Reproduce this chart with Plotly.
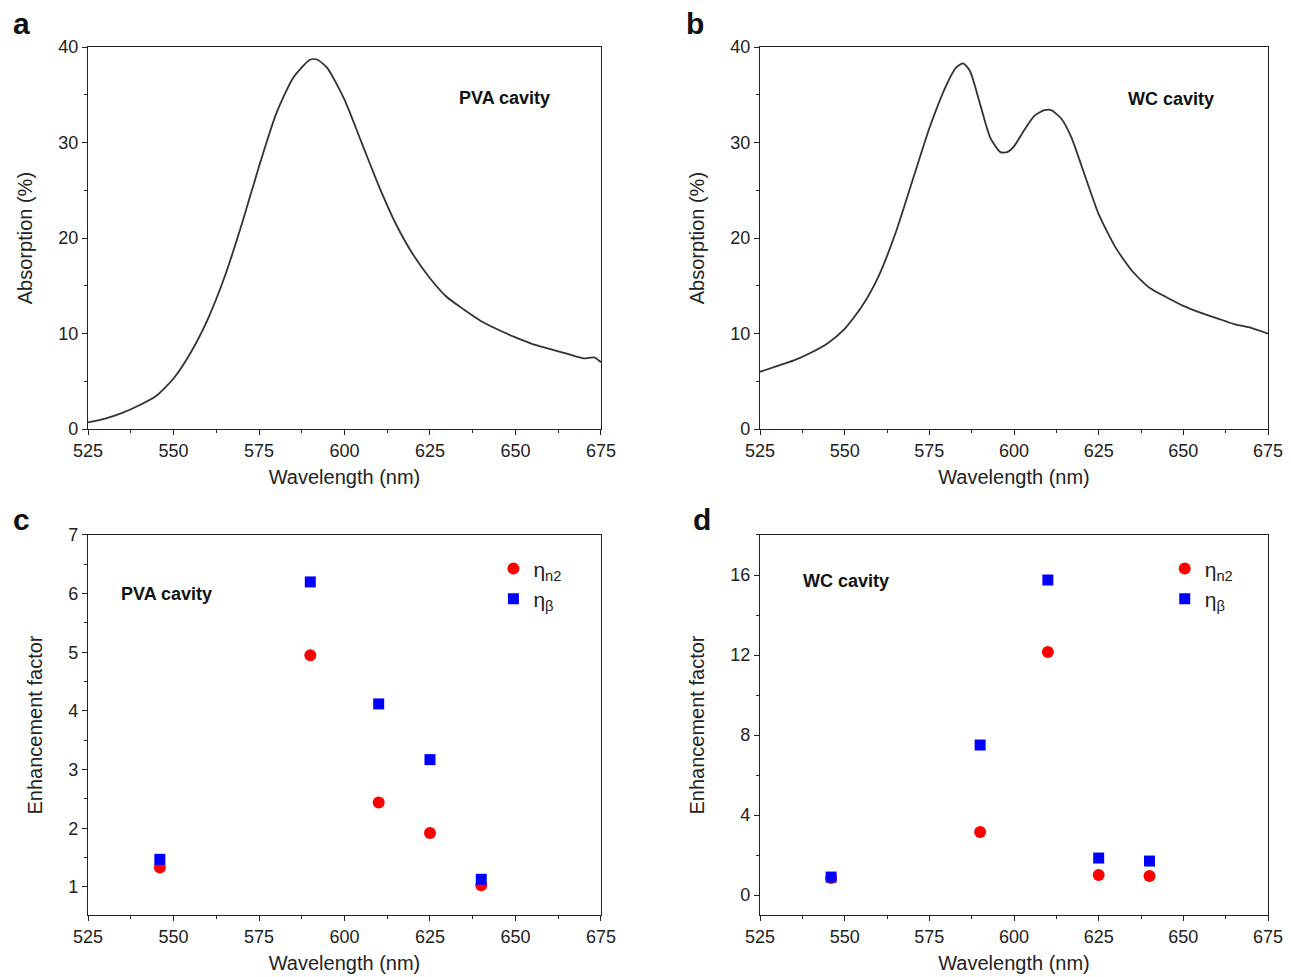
import plotly.graph_objects as go

# panel a: PVA cavity absorption
wl_a = [525, 530, 535, 540, 545, 550, 555, 560, 565, 570, 575, 580, 585, 590, 592, 595,
        600, 605, 610, 615, 620, 625, 630, 635, 640, 645, 650, 655, 660, 665, 670, 673, 675]
abs_a = [0.7, 1.1, 1.7, 2.5, 3.5, 5.3, 8.0, 11.5, 16.0, 21.5, 27.5, 33.0, 36.8, 38.7, 38.7, 37.8,
         34.5, 30.0, 25.5, 21.5, 18.3, 15.8, 13.8, 12.5, 11.3, 10.4, 9.6, 8.9, 8.4, 7.9, 7.4, 7.5, 7.0]

# panel b: WC cavity absorption
wl_b = [525, 530, 535, 540, 545, 550, 555, 560, 565, 570, 575, 580, 583, 585, 587, 590, 593,
        596, 598, 600, 603, 606, 609, 611, 614, 617, 620, 625, 630, 635, 640, 645, 650, 655,
        660, 665, 670, 675]
abs_b = [6.0, 6.6, 7.2, 8.0, 9.0, 10.5, 12.8, 16.0, 20.5, 26.0, 31.5, 36.0, 37.9, 38.3, 37.5,
         34.0, 30.5, 29.0, 29.0, 29.6, 31.3, 32.8, 33.4, 33.4, 32.5, 30.5, 27.5, 22.5, 19.0,
         16.5, 14.8, 13.8, 12.9, 12.2, 11.6, 11.0, 10.6, 10.0]

# panels c, d: enhancement factors
wl_pts = [546, 590, 610, 625, 640]
n2_pva = [1.33, 4.95, 2.44, 1.92, 1.03]
beta_pva = [1.47, 6.2, 4.12, 3.17, 1.13]
n2_wc = [0.85, 3.15, 12.15, 1.0, 0.95]
beta_wc = [0.9, 7.5, 15.75, 1.85, 1.7]

fig = go.Figure()
line = dict(color="#333333", width=1.8, shape="spline", smoothing=0.6)
fig.add_trace(go.Scatter(x=wl_a, y=abs_a, mode="lines", line=line, showlegend=False, xaxis="x", yaxis="y"))
fig.add_trace(go.Scatter(x=wl_b, y=abs_b, mode="lines", line=line, showlegend=False, xaxis="x2", yaxis="y2"))

red = dict(color="#ff0000", size=12, symbol="circle")
blue = dict(color="#0000ff", size=11, symbol="square")
fig.add_trace(go.Scatter(x=wl_pts, y=n2_pva, mode="markers", marker=red, name="η<sub>n2</sub>",
                         xaxis="x3", yaxis="y3", legend="legend"))
fig.add_trace(go.Scatter(x=wl_pts, y=beta_pva, mode="markers", marker=blue, name="η<sub>β</sub>",
                         xaxis="x3", yaxis="y3", legend="legend"))
fig.add_trace(go.Scatter(x=wl_pts, y=n2_wc, mode="markers", marker=red, name="η<sub>n2</sub>",
                         xaxis="x4", yaxis="y4", legend="legend2"))
fig.add_trace(go.Scatter(x=wl_pts, y=beta_wc, mode="markers", marker=blue, name="η<sub>β</sub>",
                         xaxis="x4", yaxis="y4", legend="legend2"))

FAM = "Liberation Sans, Arial"
font = dict(family=FAM, size=18, color="#222")


def ax(domain, rng, dtick, anchor, title, minor, standoff=10):
    return dict(domain=domain, range=rng, dtick=dtick, anchor=anchor, showgrid=False, zeroline=False,
                automargin=False, showline=True, linecolor="#222", linewidth=1.3, mirror=True,
                ticks="outside", ticklen=5, tickcolor="#222", tickfont=font,
                minor=dict(dtick=minor, ticks="outside", ticklen=3, tickcolor="#222"),
                title=dict(text=title, font=dict(family=FAM, size=20, color="#222"), standoff=standoff))


xa_dom, xb_dom = [0.062, 0.4593], [0.5825, 0.976]
top_dom, bot_dom = [0.569, 0.960], [0.0716, 0.4606]

fig.update_layout(
    width=1291, height=977, plot_bgcolor="white", paper_bgcolor="white",
    margin=dict(l=0, r=0, t=0, b=0, autoexpand=False), font=font,
    xaxis=ax(xa_dom, [525, 675], 25, "y", "Wavelength (nm)", 12.5),
    yaxis=ax(top_dom, [0, 40], 10, "x", "Absorption (%)", 5, 20),
    xaxis2=ax(xb_dom, [525, 675], 25, "y2", "Wavelength (nm)", 12.5),
    yaxis2=ax(top_dom, [0, 40], 10, "x2", "Absorption (%)", 5, 20),
    xaxis3=ax(xa_dom, [525, 675], 25, "y3", "Wavelength (nm)", 12.5),
    yaxis3=ax(bot_dom, [0.52, 7], 1, "x3", "Enhancement factor", 0.5, 20),
    xaxis4=ax(xb_dom, [525, 675], 25, "y4", "Wavelength (nm)", 12.5),
    yaxis4=ax(bot_dom, [-1, 18], 4, "x4", "Enhancement factor", 2, 20),
    legend=dict(x=0.376, y=0.447, xanchor="left", yanchor="top", bgcolor="rgba(0,0,0,0)",
                font=dict(family=FAM, size=21), tracegroupgap=10),
    legend2=dict(x=0.896, y=0.447, xanchor="left", yanchor="top", bgcolor="rgba(0,0,0,0)",
                 font=dict(family=FAM, size=21), tracegroupgap=10),
)

ann = []
for txt, x, y in [("a", 0.002, 1.003), ("b", 0.524, 1.003), ("c", 0.002, 0.495), ("d", 0.529, 0.495)]:
    ann.append(dict(text=f"<b>{txt}</b>", x=x, y=y, xref="paper", yref="paper", xanchor="left",
                    yanchor="top", showarrow=False, font=dict(family=FAM, size=30, color="#111")))
for txt, xr, yr, x, y in [("PVA cavity", "x", "y", 633, 34.7), ("WC cavity", "x2", "y2", 633, 34.6),
                          ("PVA cavity", "x3", "y3", 534, 6.0), ("WC cavity", "x4", "y4", 537, 15.7)]:
    ann.append(dict(text=f"<b>{txt}</b>", x=x, y=y, xref=xr, yref=yr, xanchor="left", showarrow=False,
                    font=dict(family=FAM, size=18, color="#111")))
fig.update_layout(annotations=ann)

fig.write_html("out.html")
